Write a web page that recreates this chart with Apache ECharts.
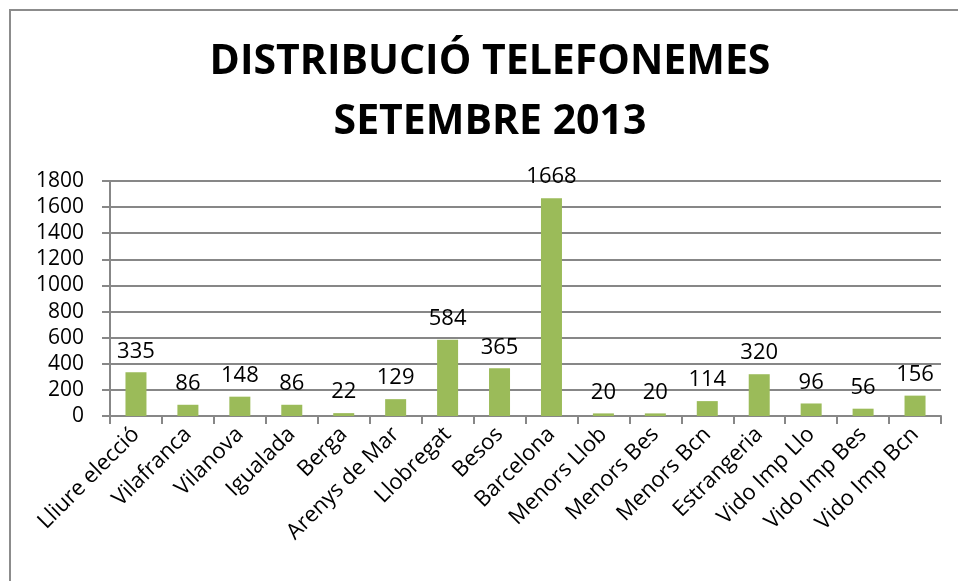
<!DOCTYPE html>
<html>
<head>
<meta charset="utf-8">
<script src="https://cdn.jsdelivr.net/npm/echarts@6/dist/echarts.min.js"></script>
<style>
    html, body { margin: 0; padding: 0; background: #fff; }
    .frame {
        position: absolute;
        left: 9px;
        top: 9px;
        width: 949px;
        height: 572px;
        border-left: 2px solid #8c8c8c;
        border-top: 2px solid #8c8c8c;
        box-sizing: border-box;
    }
    #chart { position: absolute; left: 0; top: 0; width: 958px; height: 581px; }
</style>
</head>
<body>
<div class="frame"></div>
<div id="chart"></div>
<script>
// categories and values
const categories = ['Lliure elecció', 'Vilafranca', 'Vilanova', 'Igualada', 'Berga', 'Arenys de Mar',
    'Llobregat', 'Besos', 'Barcelona', 'Menors Llob', 'Menors Bes', 'Menors Bcn',
    'Estrangeria', 'Vido Imp Llo', 'Vido Imp Bes', 'Vido Imp Bcn'];
const values = [335, 86, 148, 86, 22, 129, 584, 365, 1668, 20, 20, 114, 320, 96, 56, 156];
const titleLines = ['DISTRIBUCIÓ TELEFONEMES', 'SETEMBRE 2013'];

const fontFamily = 'Open Sans, Lato, sans-serif';

let myChart = echarts.init(document.getElementById('chart'));
let option = {
    animation: false,
    title: {
        text: titleLines.join('\n'),
        left: 485,
        textAlign: 'center',
        top: 27,
        textStyle: {
            color: '#000',
            fontFamily: fontFamily,
            fontWeight: 'bold',
            fontSize: 41,
            lineHeight: 60
        }
    },
    grid: {
        left: 110,
        right: 17,
        top: 181,
        bottom: 165
    },
    xAxis: {
        type: 'category',
        data: categories,
        axisLine: { lineStyle: { color: '#878787', width: 2 } },
        axisTick: { show: true, length: 8, lineStyle: { color: '#878787', width: 2 } },
        axisLabel: {
            rotate: 45,
            interval: 0,
            margin: 15,
            color: '#000',
            fontFamily: fontFamily,
            fontSize: 22
        }
    },
    yAxis: {
        type: 'value',
        min: 0,
        max: 1800,
        interval: 200,
        axisLine: { show: true, lineStyle: { color: '#878787', width: 2 } },
        axisTick: { show: true, length: 8, lineStyle: { color: '#878787', width: 2 } },
        axisLabel: {
            margin: 26,
            color: '#000',
            fontFamily: fontFamily,
            fontSize: 21,
            formatter: (value) => String(value)
        },
        splitLine: { lineStyle: { color: '#878787', width: 2 } }
    },
    series: [
        {
            type: 'bar',
            data: values,
            barWidth: 21,
            itemStyle: { color: '#9bbb59' },
            label: {
                show: true,
                position: 'top',
                distance: 10,
                color: '#000',
                fontFamily: fontFamily,
                fontSize: 22
            }
        }
    ]
};
myChart.setOption(option);
</script>
</body>
</html>
